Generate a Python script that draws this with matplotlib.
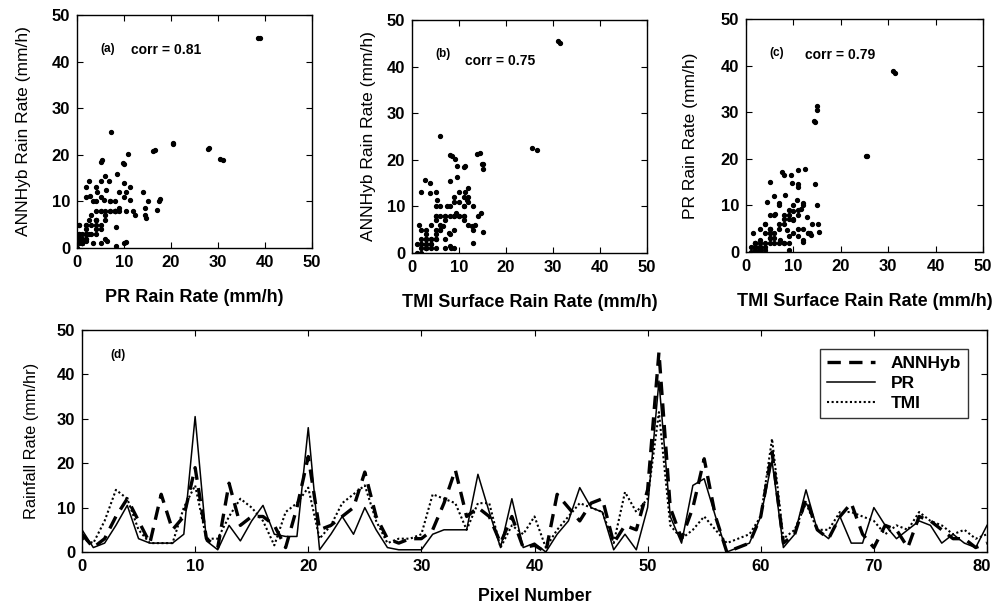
import numpy as np
import matplotlib
matplotlib.use("Agg")
import matplotlib.pyplot as plt
from matplotlib.transforms import ScaledTranslation

plt.rcParams['font.family'] = ['Liberation Sans', 'DejaVu Sans']
plt.rcParams['font.weight'] = 'bold'

# ---- line-chart data (panel d) ----
pixel = list(range(81))
pr = [5, 1, 2, 6, 10.5, 3, 2, 2, 2, 4,
      30.5, 2.5, 0.5, 6, 2.5, 7, 10.5, 4, 3.5, 3.5,
      28, 0.5, 4, 8, 4, 10, 5, 1, 0.5, 0.5,
      0.5, 4, 5, 5, 5, 17.5, 9, 1, 12, 1,
      2, 0, 4, 7, 14.5, 10, 9, 0.5, 4, 0.5,
      10, 38.5, 8, 2, 15, 16.5, 8, 0, 1, 2,
      8, 20.5, 1, 4, 14, 5, 3, 8, 2, 2,
      10, 6, 3, 5, 7, 6, 2, 4, 2, 1, 6]
ann = [4, 1, 3, 8, 12, 7, 2, 13, 5, 8,
       19, 3, 1, 15.5, 6, 8, 8, 6, 1, 10,
       21.5, 5, 6, 8, 10, 18, 8, 3, 2, 3,
       3, 5, 11, 18.5, 8, 10, 8, 2, 8, 1,
       1.5, 0, 13, 10, 7, 11, 12, 2, 6, 5,
       14, 45, 10, 3, 10, 21, 8, 0, 1, 2,
       8, 22.5, 2, 4, 12, 5, 3, 8, 11, 4,
       1, 6, 5, 1, 8, 7, 5, 3, 3, 1, 2]
tmi = [3, 2, 7, 14, 12, 5, 2, 2, 2, 10,
       15, 3, 3, 8, 12, 10, 7, 1.5, 9, 11,
       14.5, 3, 6, 11, 13, 15, 7, 2, 3, 3,
       4, 13, 12, 11, 5, 11, 11, 1, 6, 4,
       8, 1, 5, 8, 11, 10, 9, 2, 13.5, 9,
       12, 31.5, 6, 3, 5, 8, 5, 2, 3, 4,
       8, 25.5, 3, 5, 11, 5, 5, 9, 9, 8,
       7, 4, 6, 5, 9, 7, 6, 4, 5, 3, 4]

# ---- extra scatter points (a), (b), (c) ----
a_pr_extra = [39, 7.3, 20.4, 16.2, 27.8, 31.1, 10.9, 5.3, 9.7, 8.5, 6.9, 2.5, 5.0, 11.3,
              6.2, 4.3, 17.7, 11.3, 14.5, 17.0, 12.3, 14.7, 8.4, 10.5, 8.2, 6.4, 8.9, 7.1, 5.7, 2.8]
a_ann_extra = [45, 25, 22.4, 20.9, 21.3, 18.9, 20.2, 18.9, 18.2, 15.9, 14.3, 14.3, 14.3, 13.0,
               12.5, 12.1, 10.5, 10.2, 8.6, 8.1, 7.1, 6.4, 4.6, 1.2, 0.5, 1.4, 8.6, 10.0, 10.4, 11.1]

b_tmi_extra = [31.1, 26.5, 6.0, 8.5, 9.2, 13.8, 14.9, 9.6, 11.3, 9.6, 2.8, 3.9, 9.9, 11.3,
               11.7, 7.4, 9.4, 14.7, 12.8, 15.1, 13.0, 8.2, 5.3, 3.9, 6.7, 7.8]
b_ann_extra = [45.4, 22.1, 25.1, 20.9, 20.1, 21.3, 19.1, 18.6, 18.7, 16.4, 15.7, 15.1, 13.0, 13.0,
               11.4, 10.0, 8.6, 8.6, 5.9, 4.6, 2.1, 1.1, 11.4, 12.9, 5.7, 4.3]

c_tmi_extra = [31.0, 15.0, 14.3, 25.4, 7.5, 12.4, 9.4, 9.8, 14.5, 8.2, 10.7, 11.7, 10.0,
               12.8, 15.2, 15.5, 13.8, 12.1, 4.4, 6.1, 8.6, 7.2, 10.0]
c_pr_extra = [38.9, 31.3, 28.1, 20.6, 17.2, 17.9, 16.5, 14.8, 14.5, 12.2, 11.2, 9.3, 8.8,
              7.5, 6.1, 4.3, 3.6, 2.1, 10.7, 8.2, 4.7, 2.5, 6.8]

scatter_ticks = [0, 10, 20, 30, 40, 50]
line_xticks = [0, 10, 20, 30, 40, 50, 60, 70, 80]
line_yticks = [0, 10, 20, 30, 40, 50]

W, H = 994, 607
fig = plt.figure(figsize=(W / 100, H / 100), dpi=100)

def box(l, t, r, b):
    return [l / W, (H - b) / H, (r - l) / W, (b - t) / H]

TICK_FS = 12

def style(ax):
    ax.tick_params(direction='in', top=True, right=True, length=4, width=0.8,
                   labelsize=TICK_FS, pad=5)
    for lab in ax.get_xticklabels() + ax.get_yticklabels():
        lab.set_fontweight('bold')
    for s in ax.spines.values():
        s.set_linewidth(1.0)
        s.set_color('black')

panels = [
    (box(77, 15, 312, 248), np.concatenate([pr, a_pr_extra]), np.concatenate([ann, a_ann_extra]),
     'PR Rain Rate (mm/h)', 'ANNHyb Rain Rate (mm/h)', '(a)', 'corr = 0.81', (11.5, 42.5), 15),
    (box(412, 20, 647, 253), np.concatenate([tmi, b_tmi_extra]), np.concatenate([ann, b_ann_extra]),
     'TMI Surface Rain Rate (mm/h)', 'ANNHyb Rain Rate (mm/h)', '(b)', 'corr = 0.75', (11.3, 41.2), 8),
    (box(746, 19, 983, 252), np.concatenate([tmi, c_tmi_extra]), np.concatenate([pr, c_pr_extra]),
     'TMI Surface Rain Rate (mm/h)', 'PR Rain Rate (mm/h)', '(c)', 'corr = 0.79', (12.4, 42.2), 16),
]

for rect, xs, ys, xl, yl, tag, corr, cpos, ypad in panels:
    ax = fig.add_axes(rect)
    ax.plot(xs, ys, linestyle='none', marker='o', markersize=2.8, color='black')
    ax.set_xlim(0, 50)
    ax.set_ylim(0, 50)
    ax.set_xticks(scatter_ticks)
    ax.set_yticks(scatter_ticks)
    ax.set_xlabel(xl, fontsize=13, fontweight='bold', labelpad=14)
    ax.set_ylabel(yl, fontsize=12.5, fontweight='normal', labelpad=ypad)
    ax.text(5, 42.8, tag, fontsize=8.5, fontweight='bold', ha='left', va='center')
    ax.text(cpos[0], cpos[1], corr, fontsize=10, fontweight='bold', ha='left', va='center')
    style(ax)

axd = fig.add_axes(box(82, 330, 987, 552))
axd.plot(pixel, ann, color='black', linestyle=(0, (4, 2.5)), linewidth=2.4, label='ANNHyb')
axd.plot(pixel, pr, color='black', linestyle='-', linewidth=1.1, label='PR')
axd.plot(pixel, tmi, color='black', linestyle=(0, (1, 1.2)), linewidth=1.5, label='TMI')
axd.set_xlim(0, 80)
axd.set_ylim(0, 50)
axd.set_xticks(line_xticks)
axd.set_yticks(line_yticks)
axd.set_xlabel('Pixel Number', fontsize=12.8, fontweight='bold', labelpad=10)
axd.set_ylabel('Rainfall Rate (mm/hr)', fontsize=11.8, fontweight='normal', labelpad=13)
axd.text(2.5, 44.3, '(d)', fontsize=8.5, fontweight='bold', ha='left', va='center')
style(axd)
# keep the last x tick label inside the figure
last = axd.get_xticklabels()[-1]
last.set_transform(last.get_transform() + ScaledTranslation(-4 / 72, 0, fig.dpi_scale_trans))

leg = axd.legend(loc='upper right', bbox_to_anchor=(0.989, 0.955), fontsize=12.5,
                 frameon=True, fancybox=False, edgecolor='black', handlelength=2.8,
                 borderpad=0.4, labelspacing=0.3, handletextpad=0.9)
leg.get_frame().set_linewidth(1.0)
for t in leg.get_texts():
    t.set_fontweight('bold')

fig.savefig('out.png', dpi=100)
